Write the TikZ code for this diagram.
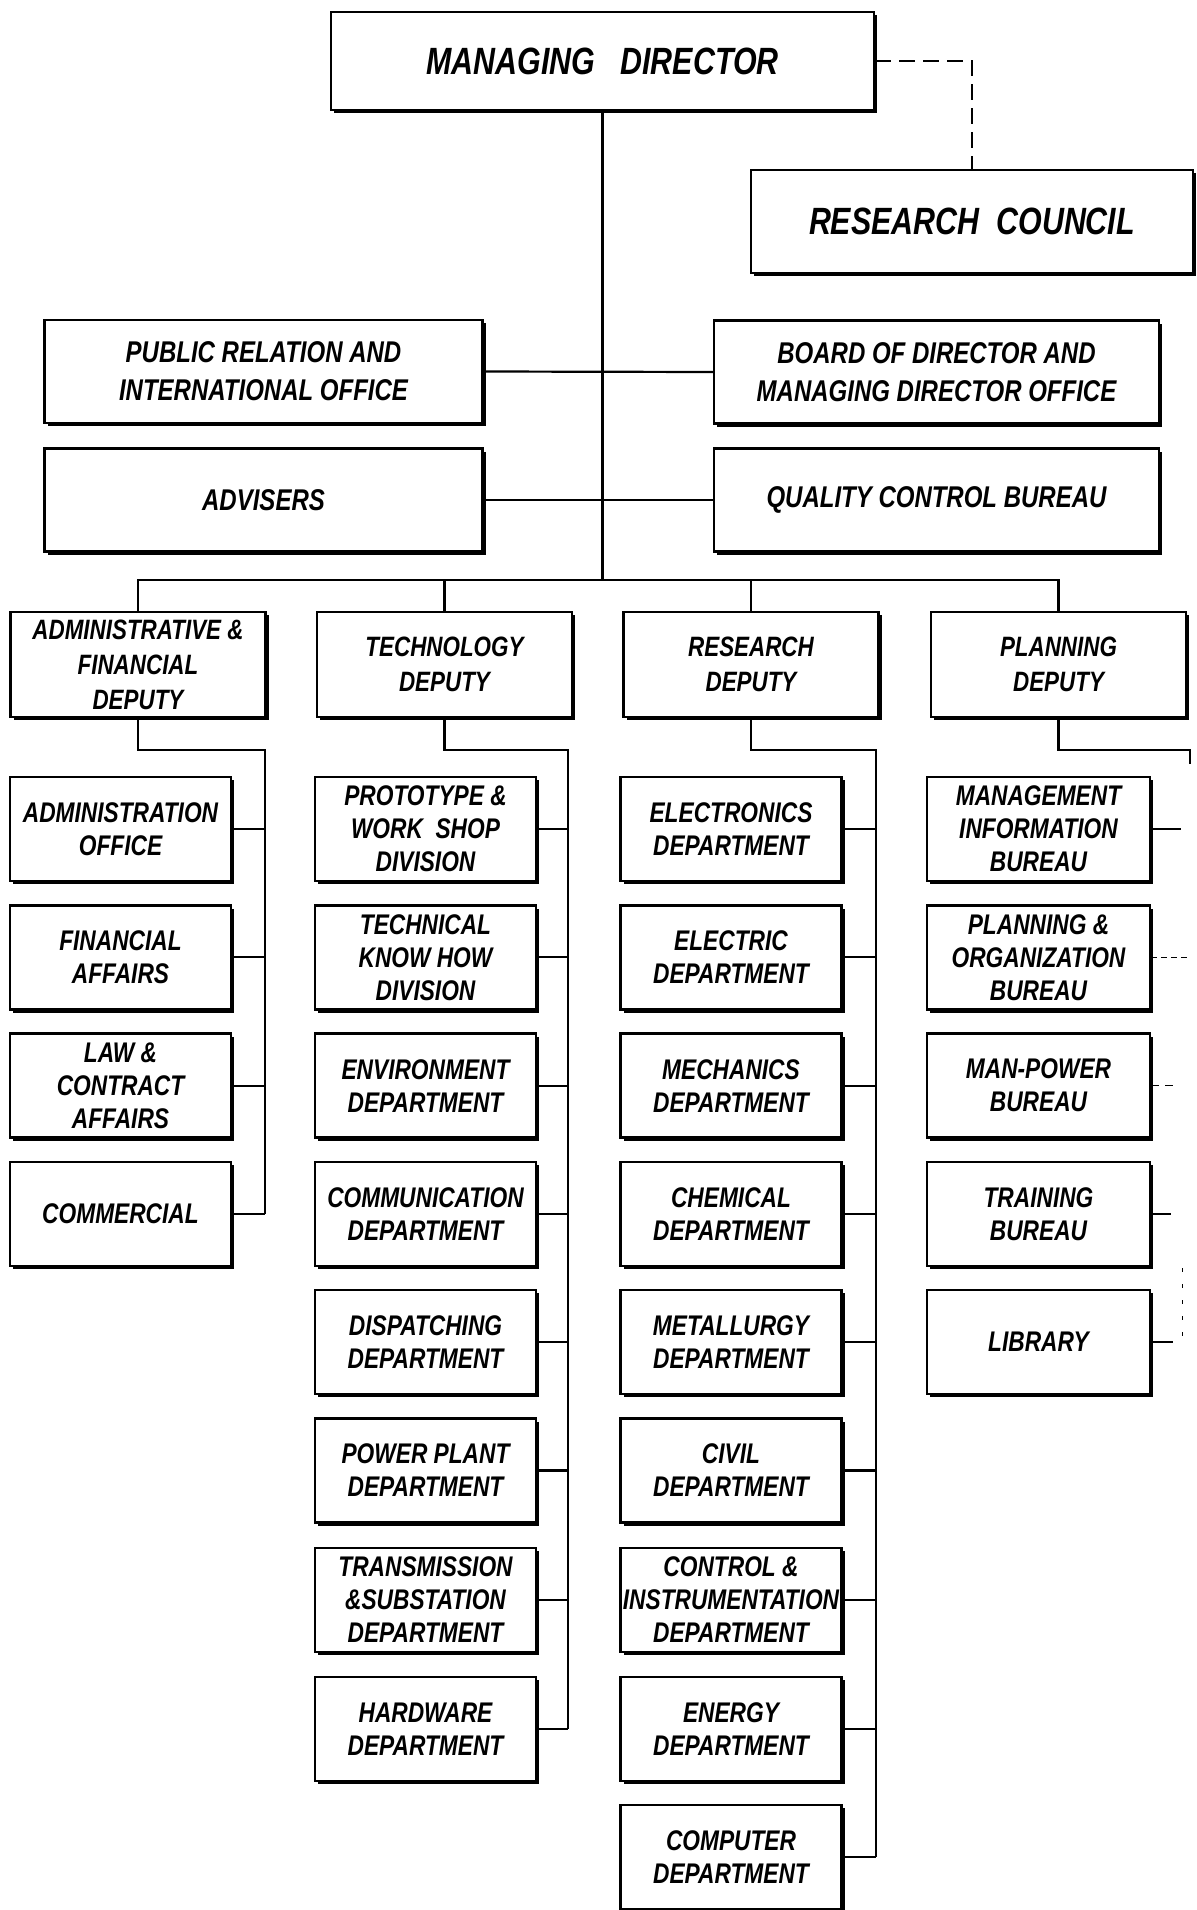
\documentclass[tikz,border=0pt]{standalone}
\usepackage{fontspec}
\setmainfont{Liberation Sans}[FakeStretch=0.8]
\usetikzlibrary{shadows}
\tikzset{
  box/.style={draw, line width=1.2pt, fill=white, inner sep=0pt, align=center,
    drop shadow={shadow xshift=1.6pt, shadow yshift=-1.6pt, opacity=1, fill=black}},
  mdbox/.style={box, line width=1.4pt, minimum width=271.5pt, minimum height=49pt,
    font=\fontsize{19}{23}\selectfont\bfseries\itshape},
  rcbox/.style={box, line width=1.4pt, minimum width=221pt, minimum height=51.5pt,
    font=\fontsize{19}{23}\selectfont\bfseries\itshape},
  staffbox/.style={box, minimum width=219pt, minimum height=51.5pt,
    font=\fontsize{15}{19}\selectfont\bfseries\itshape},
  depbox/.style={box, minimum width=127.5pt, minimum height=52.5pt,
    font=\fontsize{14}{17.5}\selectfont\bfseries\itshape},
  unitbox/.style={box, minimum width=110.5pt, minimum height=52pt,
    font=\fontsize{14.2}{16.5}\selectfont\bfseries\itshape},
  link/.style={line width=1.1pt},
  dashlink/.style={line width=1.1pt, dash pattern=on 8pt off 4pt},
}
\begin{document}
\begin{tikzpicture}[x=0.5pt,y=-0.5pt]
\useasboundingbox (0,0) rectangle (1197,1910);
\fill[white] (0,0) rectangle (1197,1910);

% top level
\node[mdbox] (md) at (602.5,61) {MANAGING\ \ \ DIRECTOR};
\node[rcbox] (rc) at (972,221.5) {RESEARCH\ \ COUNCIL};
\node[staffbox] (pr) at (263.5,371.5) {PUBLIC RELATION AND\\INTERNATIONAL OFFICE};
\node[staffbox, minimum width=222.5pt] (bd) at (936.5,372) {BOARD OF DIRECTOR AND\\MANAGING DIRECTOR OFFICE};
\node[staffbox] (adv) at (263.5,500) {ADVISERS};
\node[staffbox, minimum width=222.5pt] (qc) at (936.5,500) {QUALITY CONTROL BUREAU};

% deputies
\node[depbox] (d1) at (138,664.5) {ADMINISTRATIVE \&\\FINANCIAL\\DEPUTY};
\node[depbox] (d2) at (444.5,664.5) {TECHNOLOGY\\DEPUTY};
\node[depbox] (d3) at (751,664.5) {RESEARCH\\DEPUTY};
\node[depbox] (d4) at (1058.5,664.5) {PLANNING\\DEPUTY};

% administrative column
\node[unitbox] (a1) at (120.5,829) {ADMINISTRATION\\OFFICE};
\node[unitbox] (a2) at (120.5,957.3) {FINANCIAL\\AFFAIRS};
\node[unitbox] (a3) at (120.5,1085.6) {LAW \&\\CONTRACT\\AFFAIRS};
\node[unitbox] (a4) at (120.5,1213.9) {COMMERCIAL};

% technology column
\node[unitbox] (t1) at (425.5,829) {PROTOTYPE \&\\WORK\ \ SHOP\\DIVISION};
\node[unitbox] (t2) at (425.5,957.3) {TECHNICAL\\KNOW HOW\\DIVISION};
\node[unitbox] (t3) at (425.5,1085.6) {ENVIRONMENT\\DEPARTMENT};
\node[unitbox] (t4) at (425.5,1213.9) {COMMUNICATION\\DEPARTMENT};
\node[unitbox] (t5) at (425.5,1342.2) {DISPATCHING\\DEPARTMENT};
\node[unitbox] (t6) at (425.5,1470.5) {POWER PLANT\\DEPARTMENT};
\node[unitbox] (t7) at (425.5,1600) {TRANSMISSION\\\&SUBSTATION\\DEPARTMENT};
\node[unitbox] (t8) at (425.5,1729) {HARDWARE\\DEPARTMENT};

% research column
\node[unitbox] (r1) at (731,829) {ELECTRONICS\\DEPARTMENT};
\node[unitbox] (r2) at (731,957.3) {ELECTRIC\\DEPARTMENT};
\node[unitbox] (r3) at (731,1085.6) {MECHANICS\\DEPARTMENT};
\node[unitbox] (r4) at (731,1213.9) {CHEMICAL\\DEPARTMENT};
\node[unitbox] (r5) at (731,1342.2) {METALLURGY\\DEPARTMENT};
\node[unitbox] (r6) at (731,1470.5) {CIVIL\\DEPARTMENT};
\node[unitbox] (r7) at (731,1600) {CONTROL \&\\INSTRUMENTATION\\DEPARTMENT};
\node[unitbox] (r8) at (731,1729) {ENERGY\\DEPARTMENT};
\node[unitbox] (r9) at (731,1857) {COMPUTER\\DEPARTMENT};

% planning column
\node[unitbox, minimum width=111.5pt] (p1) at (1038.5,829) {MANAGEMENT\\INFORMATION\\BUREAU};
\node[unitbox, minimum width=111.5pt] (p2) at (1038.5,957.3) {PLANNING \&\\ORGANIZATION\\BUREAU};
\node[unitbox, minimum width=111.5pt] (p3) at (1038.5,1085.6) {MAN-POWER\\BUREAU};
\node[unitbox, minimum width=111.5pt] (p4) at (1038.5,1213.9) {TRAINING\\BUREAU};
\node[unitbox, minimum width=111.5pt] (p5) at (1038.5,1342.2) {LIBRARY};

% coordinates
\coordinate (bus) at (602.5,580);
\coordinate (c1) at (265,750);
\coordinate (c2) at (568,750);
\coordinate (c3) at (876,750);
\coordinate (c4) at (1190,750);
\coordinate (c4end) at (1190,764);

% connectors, top
\draw[dashlink] (md.east) -| (rc.north);
\draw[link] (md.south) -- (bus);
\draw[link] (pr.east) -- (bd.west);
\draw[link] (adv.east) -- (qc.west);
\draw[link] (d1.north) |- (bus) -| (d4.north);
\draw[link] (d2.north) -- (d2.north |- bus);
\draw[link] (d3.north) -- (d3.north |- bus);

% administrative spine
\draw[link] (d1.south) |- (c1) -- (c1 |- a4.east);
\foreach \n in {a1,a2,a3,a4} \draw[link] (\n.east) -- (\n.east -| c1);
% technology spine
\draw[link] (d2.south) |- (c2) -- (c2 |- t8.east);
\foreach \n in {t1,t2,t3,t4,t5,t6,t7,t8} \draw[link] (\n.east) -- (\n.east -| c2);
% research spine
\draw[link] (d3.south) |- (c3) -- (c3 |- r9.east);
\foreach \n in {r1,r2,r3,r4,r5,r6,r7,r8,r9} \draw[link] (\n.east) -- (\n.east -| c3);
% planning (cut at the page edge)
\draw[link] (d4.south) |- (c4) -- (c4end);
\path (p1.east) ++(15pt,0) coordinate (s1);
\path (p2.east) ++(19pt,0) coordinate (s2);
\path (p3.east) ++(13pt,0) coordinate (s3);
\path (p4.east) ++(10pt,0) coordinate (s4);
\path (p5.east) ++(11pt,0) coordinate (s5);
\draw[link] (p1.east) -- (s1);
\draw[line width=0.8pt, dash pattern=on 3pt off 2pt] (p2.east) -- (s2);
\draw[line width=0.8pt, dash pattern=on 4pt off 3pt] (p3.east) -- (s3);
\draw[link] (p4.east) -- (s4);
\draw[link] (p5.east) -- (s5);
\coordinate (q1) at (1182,1268);
\coordinate (q2) at (1182,1338);
\draw[line width=0.5pt, dash pattern=on 2pt off 6pt] (q1) -- (q2);
\end{tikzpicture}
\end{document}
